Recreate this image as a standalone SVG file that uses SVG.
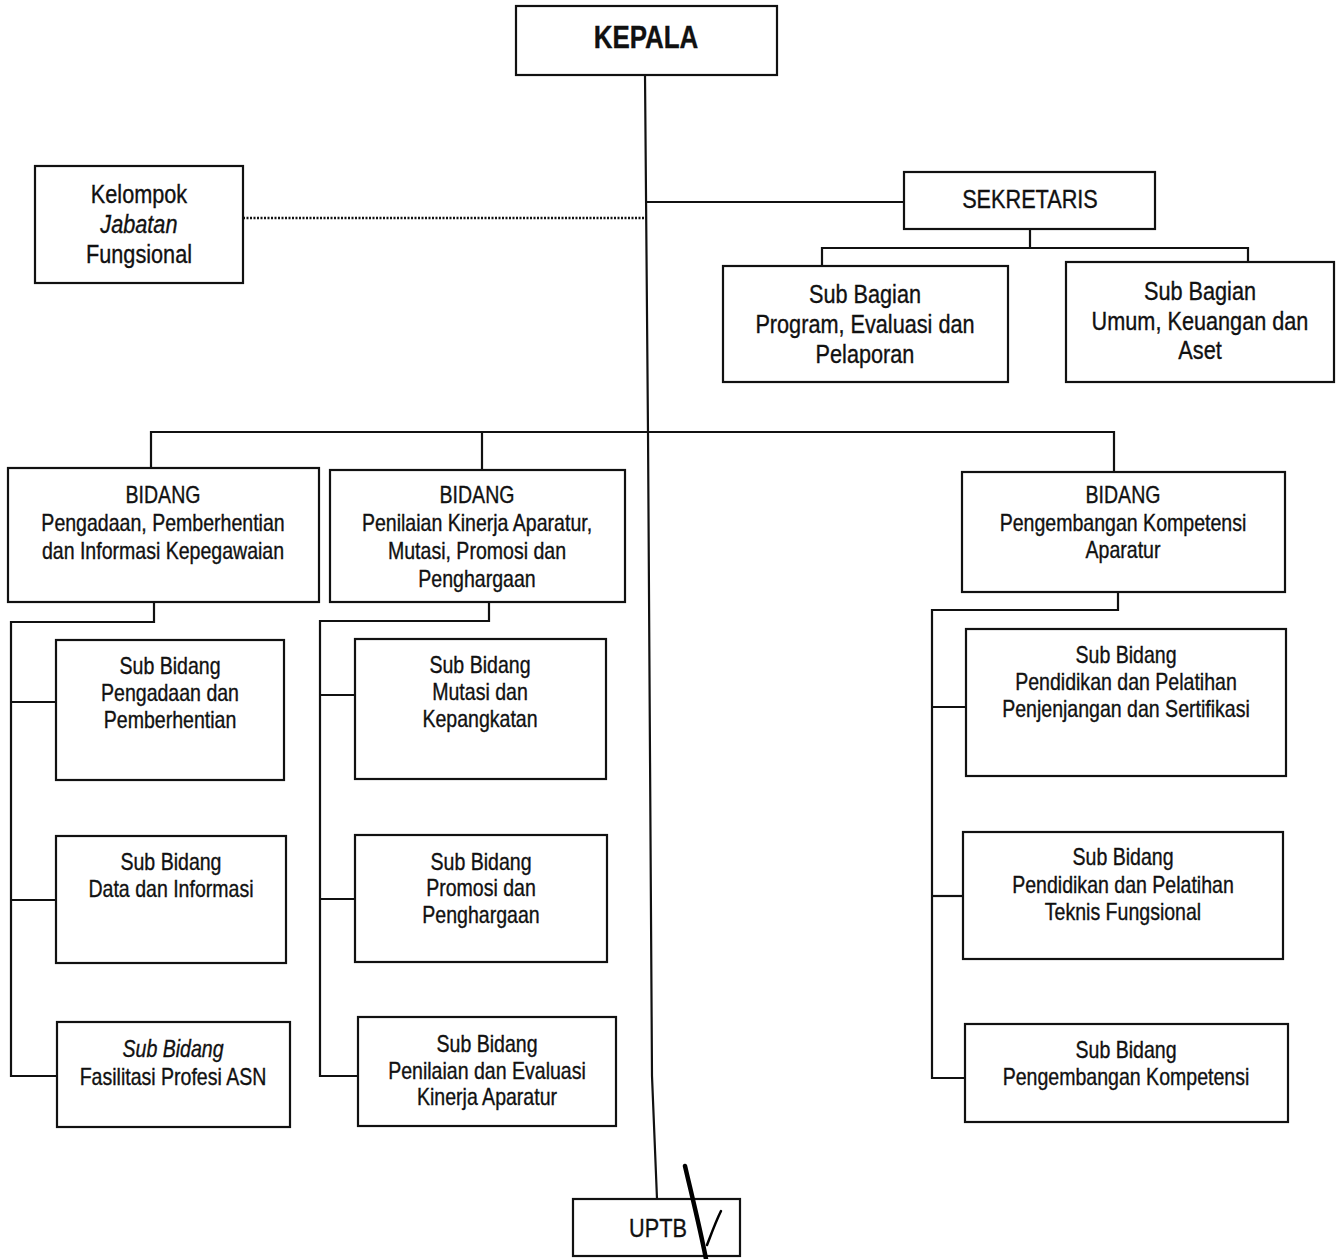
<svg xmlns="http://www.w3.org/2000/svg" width="1340" height="1259" viewBox="0 0 1340 1259">
<style>
  .box { fill: #ffffff; stroke: #111111; stroke-width: 2.2; }
  .ln { fill: none; stroke: #111111; stroke-width: 2.2; }
  .dot { fill: none; stroke: #111111; stroke-width: 2.4; stroke-dasharray: 2 1.5; }
  text { font-family: "Liberation Sans", Arial, sans-serif; fill: #111111; stroke: #111111; stroke-width: 0.35; text-anchor: middle;
         transform-box: fill-box; transform-origin: center; transform: scaleX(0.85); }
  .s23 { font-size: 23px; }
  .s25 { font-size: 25.5px; }
  .kep { font-size: 32px; font-weight: bold; transform: scaleX(0.81); }
  .it { font-style: italic; }
  .chk { fill: none; stroke: #000000; stroke-linecap: round; }
</style>

<g id="connectors">
  <polyline class="ln" points="645,75 648,432 652,1076 657,1199"/>
  <line class="ln" x1="647" y1="202" x2="904" y2="202"/>
  <line class="dot" x1="243" y1="218" x2="647" y2="218"/>
  <polyline class="ln" points="1030,229 1030,248"/>
  <polyline class="ln" points="822,266 822,248 1248,248 1248,262"/>
  <polyline class="ln" points="151,468 151,432 1114,432 1114,472"/>
  <line class="ln" x1="482" y1="432" x2="482" y2="470"/>
  <polyline class="ln" points="154,602 154,622 11,622 11,1076 57,1076"/>
  <line class="ln" x1="11" y1="702" x2="56" y2="702"/>
  <line class="ln" x1="11" y1="900" x2="56" y2="900"/>
  <polyline class="ln" points="489,602 489,621 320,621 320,1076 358,1076"/>
  <line class="ln" x1="320" y1="695" x2="355" y2="695"/>
  <line class="ln" x1="320" y1="899" x2="355" y2="899"/>
  <polyline class="ln" points="1118,592 1118,610 932,610 932,1078 965,1078"/>
  <line class="ln" x1="932" y1="707" x2="966" y2="707"/>
  <line class="ln" x1="932" y1="896" x2="963" y2="896"/>
</g>

<g id="kepala">
  <rect class="box" x="516" y="6" width="261" height="69"/>
  <text class="kep" x="646" y="48">KEPALA</text>
</g>

<g id="kelompok">
  <rect class="box" x="35" y="166" width="208" height="117"/>
  <text class="s25" x="139" y="203">Kelompok</text>
  <text class="s25 it" x="139" y="233">Jabatan</text>
  <text class="s25" x="139" y="263">Fungsional</text>
</g>

<g id="sekretaris">
  <rect class="box" x="904" y="172" width="251" height="57"/>
  <text class="s25" x="1030" y="208">SEKRETARIS</text>
</g>

<g id="subbag-program">
  <rect class="box" x="723" y="266" width="285" height="116"/>
  <text class="s25" x="865" y="303">Sub Bagian</text>
  <text class="s25" x="865" y="333">Program, Evaluasi dan</text>
  <text class="s25" x="865" y="363">Pelaporan</text>
</g>

<g id="subbag-umum">
  <rect class="box" x="1066" y="262" width="268" height="120"/>
  <text class="s25" x="1200" y="300">Sub Bagian</text>
  <text class="s25" x="1200" y="330">Umum, Keuangan dan</text>
  <text class="s25" x="1200" y="359">Aset</text>
</g>

<g id="bidang-pengadaan">
  <rect class="box" x="8" y="468" width="311" height="134"/>
  <text class="s23" x="163" y="503">BIDANG</text>
  <text class="s23" x="163" y="531">Pengadaan, Pemberhentian</text>
  <text class="s23" x="163" y="559">dan Informasi Kepegawaian</text>
</g>

<g id="bidang-penilaian">
  <rect class="box" x="330" y="470" width="295" height="132"/>
  <text class="s23" x="477" y="503">BIDANG</text>
  <text class="s23" x="477" y="531">Penilaian Kinerja Aparatur,</text>
  <text class="s23" x="477" y="559">Mutasi, Promosi dan</text>
  <text class="s23" x="477" y="587">Penghargaan</text>
</g>

<g id="bidang-pengembangan">
  <rect class="box" x="962" y="472" width="323" height="120"/>
  <text class="s23" x="1123" y="503">BIDANG</text>
  <text class="s23" x="1123" y="531">Pengembangan Kompetensi</text>
  <text class="s23" x="1123" y="558">Aparatur</text>
</g>

<g id="sub-pengadaan">
  <rect class="box" x="56" y="640" width="228" height="140"/>
  <text class="s23" x="170" y="674">Sub Bidang</text>
  <text class="s23" x="170" y="701">Pengadaan dan</text>
  <text class="s23" x="170" y="728">Pemberhentian</text>
</g>

<g id="sub-data">
  <rect class="box" x="56" y="836" width="230" height="127"/>
  <text class="s23" x="171" y="870">Sub Bidang</text>
  <text class="s23" x="171" y="897">Data dan Informasi</text>
</g>

<g id="sub-fasilitasi">
  <rect class="box" x="57" y="1022" width="233" height="105"/>
  <text class="s23 it" x="173" y="1057">Sub Bidang</text>
  <text class="s23" x="173" y="1085">Fasilitasi Profesi ASN</text>
</g>

<g id="sub-mutasi">
  <rect class="box" x="355" y="639" width="251" height="140"/>
  <text class="s23" x="480" y="673">Sub Bidang</text>
  <text class="s23" x="480" y="700">Mutasi dan</text>
  <text class="s23" x="480" y="727">Kepangkatan</text>
</g>

<g id="sub-promosi">
  <rect class="box" x="355" y="835" width="252" height="127"/>
  <text class="s23" x="481" y="870">Sub Bidang</text>
  <text class="s23" x="481" y="896">Promosi dan</text>
  <text class="s23" x="481" y="923">Penghargaan</text>
</g>

<g id="sub-penilaian">
  <rect class="box" x="358" y="1017" width="258" height="109"/>
  <text class="s23" x="487" y="1052">Sub Bidang</text>
  <text class="s23" x="487" y="1079">Penilaian dan Evaluasi</text>
  <text class="s23" x="487" y="1105">Kinerja Aparatur</text>
</g>

<g id="sub-diklat-penjenjangan">
  <rect class="box" x="966" y="629" width="320" height="147"/>
  <text class="s23" x="1126" y="663">Sub Bidang</text>
  <text class="s23" x="1126" y="690">Pendidikan dan Pelatihan</text>
  <text class="s23" x="1126" y="717">Penjenjangan dan Sertifikasi</text>
</g>

<g id="sub-diklat-teknis">
  <rect class="box" x="963" y="832" width="320" height="127"/>
  <text class="s23" x="1123" y="865">Sub Bidang</text>
  <text class="s23" x="1123" y="893">Pendidikan dan Pelatihan</text>
  <text class="s23" x="1123" y="920">Teknis Fungsional</text>
</g>

<g id="sub-pengembangan">
  <rect class="box" x="965" y="1024" width="323" height="98"/>
  <text class="s23" x="1126" y="1058">Sub Bidang</text>
  <text class="s23" x="1126" y="1085">Pengembangan Kompetensi</text>
</g>

<g id="uptb">
  <rect class="box" x="573" y="1199" width="167" height="57"/>
  <text class="s25" x="658" y="1237">UPTB</text>
  <path class="chk" stroke-width="4.5" d="M685,1166 C691,1192 700,1228 706,1259"/>
  <path class="chk" stroke-width="2.5" d="M707,1245 C712,1232 716,1221 721,1211"/>
</g>
</svg>
